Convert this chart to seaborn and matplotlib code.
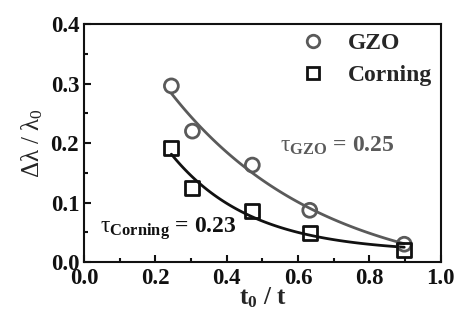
import matplotlib
matplotlib.use("Agg")
import matplotlib.pyplot as plt
from matplotlib.ticker import MultipleLocator
import numpy as np
import seaborn as sns

# Data
ratio_gzo = [0.245, 0.304, 0.472, 0.633, 0.898]
shift_gzo = [0.296, 0.220, 0.163, 0.087, 0.030]
ratio_corning = [0.245, 0.304, 0.470, 0.633, 0.898]
shift_corning = [0.192, 0.124, 0.086, 0.049, 0.020]
series = ["GZO", "Corning"]
colors = {"GZO": "#5a5a5a", "Corning": "#111111"}
markers = {"GZO": "o", "Corning": "s"}


def exp_fit(x, y, grid=np.linspace(0.05, 1.0, 400)):
    # y = y0 + A * exp(-x / k), scan k and solve the linear part
    x = np.asarray(x)
    y = np.asarray(y)
    best = None
    for k in grid:
        M = np.column_stack([np.ones_like(x), np.exp(-x / k)])
        coef, *_ = np.linalg.lstsq(M, y, rcond=None)
        err = np.sum((M @ coef - y) ** 2)
        if best is None or err < best[0]:
            best = (err, k, coef)
    _, k, (y0, a) = best
    xs = np.linspace(x.min(), x.max(), 100)
    return xs, y0 + a * np.exp(-xs / k)


data = {"GZO": (ratio_gzo, shift_gzo), "Corning": (ratio_corning, shift_corning)}

sns.set_style("ticks")
plt.rcParams["font.family"] = ["Liberation Serif", "DejaVu Serif"]
plt.rcParams["mathtext.fontset"] = "custom"
plt.rcParams["mathtext.rm"] = "Liberation Serif"
plt.rcParams["mathtext.it"] = "Liberation Serif"
plt.rcParams["mathtext.bf"] = "Liberation Serif:bold"

fig = plt.figure(figsize=(4.59, 3.2), dpi=100)
ax = fig.add_axes([0.183, 0.181, 0.777, 0.744])

for name in series:
    x, y = data[name]
    xs, ys = exp_fit(x, y)
    sns.lineplot(x=xs, y=ys, color=colors[name], linewidth=2, ax=ax, sort=False)
    sns.scatterplot(x=x, y=y, marker=markers[name], s=100, ax=ax, zorder=3)
    coll = ax.collections[-1]
    coll.set_facecolor("none")
    coll.set_edgecolor(colors[name])
    coll.set_linewidth(2)

ax.set_xlim(0, 1.0)
ax.set_ylim(0, 0.4)
ax.xaxis.set_major_locator(MultipleLocator(0.2))
ax.xaxis.set_minor_locator(MultipleLocator(0.1))
ax.yaxis.set_major_locator(MultipleLocator(0.1))
ax.yaxis.set_minor_locator(MultipleLocator(0.05))
ax.tick_params(which="both", direction="in", labelsize=16.5, width=1.5, colors="#111111")
ax.tick_params(which="major", length=5)
ax.tick_params(which="minor", length=3)
ax.tick_params(axis="x", pad=4)
ax.set_xticks(ax.get_xticks())
ax.set_yticks(ax.get_yticks())
ax.set_xticklabels([f"{v:.1f}" for v in ax.get_xticks()], fontweight="bold")
ax.set_yticklabels([f"{v:.1f}" for v in ax.get_yticks()], fontweight="bold")
ax.set_xlim(0, 1.0)
ax.set_ylim(0, 0.4)
for sp in ax.spines.values():
    sp.set_linewidth(1.5)
    sp.set_color("#111111")

ax.set_xlabel(r"$\mathbf{t_0}$ / t", fontsize=18, fontweight="bold", labelpad=-2)
ax.set_ylabel(r"$\Delta\lambda$ / $\lambda_0$", fontsize=18, labelpad=4)

# legend
handles = [
    plt.Line2D([], [], linestyle="none", marker=markers[n], markersize=9,
               markerfacecolor="none", markeredgecolor=colors[n], markeredgewidth=2)
    for n in series
]
ax.legend(handles, series, loc="upper right", frameon=False,
          prop={"weight": "bold", "size": 17}, handletextpad=0.5,
          borderaxespad=0.05, labelspacing=0.45, borderpad=0.3)

ax.text(0.55, 0.185, r"$\tau_{\mathbf{GZO}}$ = 0.25", color=colors["GZO"],
        fontsize=17, fontweight="bold")
ax.text(0.044, 0.05, r"$\tau_{\mathbf{Corning}}$ = 0.23", color=colors["Corning"],
        fontsize=17, fontweight="bold")

fig.savefig("out.png", dpi=100)
